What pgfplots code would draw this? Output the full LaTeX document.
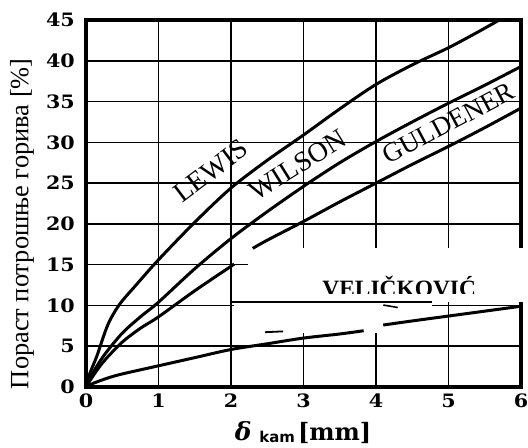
\documentclass[border=0pt]{standalone}
\usepackage{fontspec}
\setmainfont{Liberation Serif}
\newfontfamily\tickfont{DejaVu Serif}[FakeStretch=1.12]
\newfontfamily\labfont{DejaVu Serif}
\newfontfamily\labsans{DejaVu Sans}
\usepackage{pgfplots}
\pgfplotsset{compat=1.18}
\pgfplotsset{curve/.style={black, line width=3pt, smooth, no markers}}

\begin{document}
\begin{tikzpicture}
\path[use as bounding box] (-86bp,-61bp) rectangle (442bp,387bp);
\begin{axis}[
    at={(0,0)}, anchor=south west,
    scale only axis, width=435bp, height=367bp,
    xmin=0, xmax=6, ymin=0, ymax=45,
    xtick={0,...,6}, ytick={0,5,...,45},
    grid=major,
    major grid style={black, line width=1.5pt},
    axis line style={black, line width=3pt},
    major tick length=0pt,
    clip=false,
    /pgf/number format/assume math mode=true,
    tick label style={font=\tickfont\bfseries\fontsize{18.5}{18.5}\selectfont, inner sep=0pt},
    yticklabel style={anchor=east, xshift=-11bp},
    xticklabel style={anchor=north, yshift=-7bp},
    ylabel={Пораст потрошње горива [\%]},
    ylabel style={at={(axis description cs:-0.147,0.445)}, anchor=center,
        font=\fontsize{26.5}{26.5}\selectfont},
    xlabel={{\labfont\bfseries\itshape\fontsize{25}{25}\selectfont δ}\hspace{8bp}%
        \raisebox{-2bp}{\labsans\bfseries\fontsize{15}{15}\selectfont kam}\hspace{3bp}%
        {\labfont\bfseries\fontsize{24}{24}\selectfont [mm]}},
    xlabel style={at={(axis description cs:0.499,-0.123)}, anchor=center},
]
% frame
\draw[line width=3.2pt] (rel axis cs:0,0) rectangle (rel axis cs:1,1);
% scan damage around the VELICKOVIC label
\fill[white] (axis cs:2.24,10.45) rectangle ([xshift=4bp]axis cs:6,17.0);
\fill[white] (axis cs:2.04,6.6) rectangle (axis cs:4.77,10.45);
\draw[line width=1.5pt] (axis cs:2.0,10.42) -- (axis cs:4.77,10.42);
\draw[line width=1.8pt] (axis cs:2.47,6.72) -- (axis cs:2.72,6.82);
\draw[line width=1.6pt] (axis cs:4.1,10.05) -- (axis cs:4.3,9.75);

% LEWIS
\addplot[curve] coordinates {(0,0) (0.05,1.6) (0.15,3.8) (0.3,7.6) (0.46,10.1) (0.7,12.6)
    (1,15.6) (1.5,20.2) (2,24.4) (2.5,27.8) (3,30.9) (3.5,34.1) (4,37.1)
    (4.5,39.5) (5,41.6) (5.4,43.5) (5.7,45)};
% WILSON
\addplot[curve] coordinates {(0,0) (0.1,1.8) (0.25,3.9) (0.5,6.6) (0.75,8.6) (1,10.4)
    (1.5,14.5) (2,18.2) (2.5,21.5) (3,24.6) (3.5,27.5) (4,30.1) (4.5,32.5)
    (5,34.8) (5.5,37.0) (6,39.3)};
% GULDENER
\addplot[curve] coordinates {(0,0) (0.1,1.4) (0.25,3.2) (0.5,5.5) (0.75,7.2) (1,8.6)
    (1.5,11.8) (2,14.8) (2.03,15.0)};
\addplot[curve] coordinates {(2.3,17.0) (2.5,18.0) (3,20.3) (3.5,22.7) (4,25.0)
    (4.5,27.3) (5,29.5) (5.5,31.8) (6,34.2)};
% VELICKOVIC
\addplot[curve] coordinates {(0,0) (0.1,0.45) (0.3,1.1) (0.5,1.6) (1,2.6) (1.5,3.6)
    (2,4.6) (2.5,5.3) (3,6.0) (3.5,6.5) (3.83,6.9)};
\addplot[curve] coordinates {(4.1,7.6) (4.5,8.1) (5,8.7) (5.5,9.3) (6,9.9)};

\node[rotate=37, font=\fontsize{28}{28}\selectfont] at (axis cs:1.72,26.5) {LEWIS};
\node[rotate=32, font=\fontsize{28}{28}\selectfont] at (axis cs:2.92,27.2) {WILSON};
\node[rotate=28, font=\fontsize{27}{27}\selectfont] at (axis cs:5.0,32.35) {GULDENER};
\begin{scope}
\clip (axis cs:2.3,11.52) rectangle (axis cs:6,17);
\node[anchor=base, inner sep=0pt, font=\bfseries\fontsize{23.5}{23.5}\selectfont]
    at (axis cs:4.32,11.15) {VELIČKOVIĆ};
\end{scope}
\end{axis}
\end{tikzpicture}
\end{document}
